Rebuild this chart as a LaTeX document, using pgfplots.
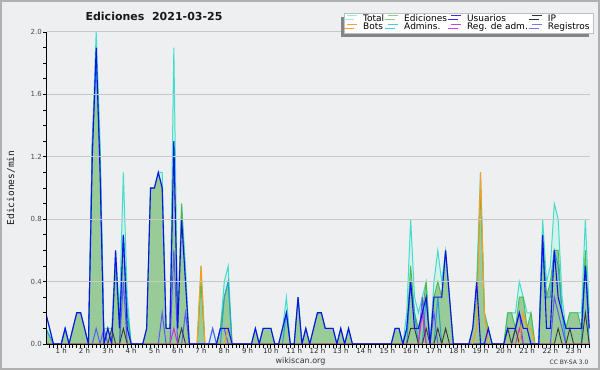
\documentclass[border=0pt]{standalone}
\usepackage{pgfplots}
\pgfplotsset{compat=1.18}
\usepackage{pgfplotstable}
\usepackage{fontspec}
\setmainfont{DejaVu Sans}
\newfontfamily\monofont{DejaVu Sans Mono}
\usetikzlibrary{shadows}
\definecolor{bg}{HTML}{EEEFF1}
\definecolor{bordc}{HTML}{B0B0B0}
\definecolor{gridc}{HTML}{C8C8CA}
\definecolor{totfill}{HTML}{D2F2EA}
\definecolor{totline}{HTML}{40DCCC}
\definecolor{edfill}{HTML}{98CB98}
\definecolor{edline}{HTML}{4CB84C}
\definecolor{usr}{HTML}{1010EE}
\definecolor{adm}{HTML}{22A0D8}
\definecolor{ipc}{HTML}{383838}
\definecolor{bot}{HTML}{FF9A1A}
\definecolor{radm}{HTML}{CC33CC}
\definecolor{reg}{HTML}{5A5AF0}
\definecolor{lgTot}{HTML}{A8E6DC}
\definecolor{lgEd}{HTML}{88D088}
\definecolor{lgUsr}{HTML}{3333DD}
\definecolor{lgIP}{HTML}{333333}
\definecolor{lgBot}{HTML}{FF9933}
\definecolor{lgAdm}{HTML}{44CCDD}
\definecolor{lgRadm}{HTML}{CC44DD}
\definecolor{lgReg}{HTML}{7777EE}

% i = 10-minute slot; T=Total E=Ediciones U=Usuarios A=Admins IP B=Bots M=Reg. de adm. R=Registros
\pgfplotstableread{
i T E U A IP B M R
2 0.2 0.1 0.2 0.1 0 0 0 0
3 0.1 0.05 0.1 0.05 0 0 0 0
4 0 0 0 0 0 0 0 0
5 0 0 0 0 0 0 0 0
6 0 0 0 0 0 0 0 0
7 0.1 0.1 0.1 0.1 0 0 0 0
8 0 0 0 0 0 0 0 0
9 0.1 0.1 0.1 0 0 0 0 0
10 0.2 0.2 0.2 0 0 0 0 0
11 0.2 0.2 0.2 0 0 0 0 0
12 0.1 0.1 0.1 0 0 0 0 0
13 0 0 0 0 0 0 0 0
14 1.3 1.3 1.2 1.3 0 0 0 0
15 2.0 1.8 1.9 1.8 0 0 0 0.1
16 1.3 1.2 1.1 1.2 0 0 0 0
17 0.1 0 0 0 0 0 0 0.1
18 0.1 0.1 0.1 0 0 0 0 0
19 0.1 0 0 0 0.1 0 0 0
20 0.6 0.5 0.6 0 0 0 0 0
21 0.2 0.1 0.1 0 0 0 0 0
22 1.1 0.7 0.7 0.7 0.1 0 0 0.4
23 0.3 0.2 0.1 0.2 0 0 0 0
24 0 0 0 0 0 0 0 0
25 0 0 0 0 0 0 0 0
26 0 0 0 0 0 0 0 0
27 0 0 0 0 0 0 0 0
28 0.1 0.1 0.1 0 0 0 0 0
29 1.0 1.0 1.0 0 0 0 0 0
30 1.0 1.0 1.0 0 0 0 0 0
31 1.1 1.1 1.1 0 0 0 0 0
32 1.1 1.0 1.0 0 0 0 0 0.2
33 0.1 0.1 0.1 0 0 0 0 0
34 0.1 0.1 0.1 0 0 0 0 0
35 1.9 1.3 1.3 0 0 0 0.1 0.6
36 0.1 0.1 0.1 0 0 0 0 0
37 0.9 0.9 0.8 0 0.1 0 0 0
38 0.5 0.4 0.4 0 0 0 0 0.2
39 0 0 0 0 0 0 0 0
40 0 0 0 0 0 0 0 0
41 0 0 0 0 0 0 0 0
42 0.5 0.4 0 0 0 0.5 0 0
43 0 0 0 0 0 0 0 0
44 0 0 0 0 0 0 0 0
45 0.1 0 0 0 0 0 0 0.1
46 0 0 0 0 0 0 0 0
47 0.1 0.1 0.1 0 0 0 0 0.1
48 0.4 0.3 0.1 0.3 0 0 0 0.1
49 0.5 0.4 0.1 0.4 0 0.1 0 0
50 0 0 0 0 0 0 0 0
51 0 0 0 0 0 0 0 0
52 0 0 0 0 0 0 0 0
53 0 0 0 0 0 0 0 0
54 0 0 0 0 0 0 0 0
55 0 0 0 0 0 0 0 0
56 0.1 0.1 0.1 0 0 0 0 0
57 0 0 0 0 0 0 0 0
58 0.1 0.1 0.1 0 0 0 0 0
59 0.1 0.1 0.1 0 0 0 0 0
60 0.1 0.1 0.1 0 0 0 0 0
61 0 0 0 0 0 0 0 0
62 0 0 0 0 0 0 0 0
63 0.1 0.1 0.1 0 0 0 0 0
64 0.3 0.2 0.2 0.2 0 0 0 0
65 0 0 0 0 0 0 0 0
66 0 0 0 0 0 0 0 0
67 0.3 0.3 0.3 0 0 0 0 0
68 0 0 0 0 0 0 0 0
69 0.1 0.1 0.1 0 0 0 0 0
70 0 0 0 0 0 0 0 0
71 0.1 0.1 0.1 0 0 0 0 0
72 0.2 0.2 0.2 0 0 0 0 0
73 0.2 0.2 0.2 0 0 0 0 0
74 0.1 0.1 0.1 0 0 0 0 0
75 0.1 0.1 0.1 0 0 0 0 0
76 0.1 0.1 0.1 0 0 0 0 0
77 0 0 0 0 0 0 0 0
78 0.1 0.1 0.1 0 0 0 0 0
79 0 0 0 0 0 0 0 0
80 0.1 0.1 0.1 0 0 0 0 0
81 0 0 0 0 0 0 0 0
82 0 0 0 0 0 0 0 0
83 0 0 0 0 0 0 0 0
84 0 0 0 0 0 0 0 0
85 0 0 0 0 0 0 0 0
86 0 0 0 0 0 0 0 0
87 0 0 0 0 0 0 0 0
88 0 0 0 0 0 0 0 0
89 0 0 0 0 0 0 0 0
90 0 0 0 0 0 0 0 0
91 0 0 0 0 0 0 0 0
92 0.1 0.1 0.1 0 0 0 0 0
93 0.1 0.1 0.1 0 0 0 0 0
94 0 0 0 0 0 0 0 0
95 0.2 0.1 0.1 0 0 0 0 0
96 0.8 0.5 0.4 0.4 0.1 0 0 0
97 0.3 0.2 0.1 0.2 0.1 0 0 0
98 0.2 0.1 0.1 0 0 0 0 0
99 0.3 0.2 0.2 0 0 0 0.2 0.3
100 0.4 0.4 0.3 0.3 0.1 0 0 0
101 0 0 0 0 0 0 0 0
102 0.4 0.3 0.3 0 0 0 0 0.2
103 0.6 0.4 0.3 0.3 0.1 0 0 0
104 0.4 0.3 0.3 0 0 0 0 0
105 0.6 0.6 0.6 0 0.1 0 0 0
106 0.3 0.3 0.3 0 0 0 0 0
107 0 0 0 0 0 0 0 0
108 0 0 0 0 0 0 0 0
109 0 0 0 0 0 0 0 0
110 0 0 0 0 0 0 0 0
111 0 0 0 0 0 0 0 0
112 0.1 0.1 0.1 0 0 0 0 0
113 0.4 0.3 0.4 0 0 0.1 0 0
114 1.1 1.0 0 0 0 1.1 0 0
115 0.2 0.2 0 0 0 0.2 0 0
116 0.1 0.1 0.1 0 0 0 0 0
117 0 0 0 0 0 0 0 0
118 0 0 0 0 0 0 0 0
119 0 0 0 0 0 0 0 0
120 0 0 0 0 0 0 0 0
121 0.2 0.2 0.1 0 0.1 0 0 0
122 0.2 0.2 0.1 0 0 0 0 0
123 0.2 0.1 0.1 0 0.1 0 0 0.1
124 0.4 0.3 0.2 0 0 0 0.1 0.2
125 0.3 0.3 0.1 0 0 0.2 0 0
126 0.2 0.1 0.1 0 0 0.1 0 0
127 0.2 0.2 0 0 0 0.1 0 0
128 0 0 0 0 0 0 0 0
129 0 0 0 0 0 0 0 0
130 0.8 0.7 0.7 0.6 0 0 0 0
131 0.4 0.3 0.1 0.3 0 0 0 0
132 0.5 0.4 0.1 0.3 0 0 0 0
133 0.9 0.6 0.6 0.6 0 0 0 0.3
134 0.8 0.6 0.3 0.5 0.1 0 0 0.2
135 0.3 0.2 0.2 0.2 0 0 0 0.1
136 0.1 0.1 0.1 0 0 0 0 0
137 0.2 0.2 0.1 0 0.1 0 0 0
138 0.2 0.2 0.1 0 0 0 0 0
139 0.2 0.2 0.1 0 0 0 0 0
140 0.2 0.1 0.1 0 0 0 0 0
141 0.8 0.6 0.5 0.5 0.2 0 0 0
142 0.2 0.1 0.1 0 0 0 0 0
}\data

\begin{document}
\begin{tikzpicture}
\useasboundingbox (0,0) rectangle (600bp,370bp);
\fill[bg] (0,0) rectangle (600bp,370bp);
\begin{axis}[
  at={(46.5bp,26bp)}, anchor=south west,
  scale only axis, width=543.5bp, height=312bp,
  xmin=2.2, xmax=142.2, ymin=0, ymax=2,
  axis x line=bottom, axis y line=left,
  axis line style={-, black, line width=1bp},
  axis on top,
  tick align=outside,
  major tick length=3.5bp, minor tick length=3.5bp,
  every tick/.style={black, line width=0.8bp},
  xtick={6,12,...,138},
  xticklabels={1 h,2 h,3 h,4 h,5 h,6 h,7 h,8 h,9 h,10 h,11 h,12 h,13 h,14 h,15 h,16 h,17 h,18 h,19 h,20 h,21 h,22 h,23 h},
  minor xtick={3,4,...,142},
  ytick={0,0.4,0.8,1.2,1.6,2.0},
  yticklabels={0.0,0.4,0.8,1.2,1.6,2.0},
  minor ytick={0.1,0.2,0.3,0.5,0.6,0.7,0.9,1.0,1.1,1.3,1.4,1.5,1.7,1.8,1.9},
  xticklabel style={font=\fontsize{7bp}{8bp}\selectfont, text=black!85, inner sep=0.5bp},
  yticklabel style={font=\fontsize{7bp}{8bp}\selectfont, text=black!70, inner sep=1bp},
  ymajorgrids, major grid style={gridc, line width=1bp},
  legend columns=4,
  legend cell align=left,
  legend image code/.code={\draw[#1] (0bp,3bp) -- (10bp,3bp);},
  legend style={at={(1.0055,1.062)}, anchor=north east, draw=black!25, fill=white,
    font=\fontsize{9bp}{10bp}\selectfont, inner xsep=2.5bp, inner ysep=1bp,
    row sep=-1.5bp,
    drop shadow={shadow xshift=-3.5bp, shadow yshift=-4bp, fill=black!48, opacity=1},
    nodes={inner sep=0.8bp},
    /tikz/every odd column/.append style={column sep=4.5bp},
    /tikz/every even column/.append style={column sep=3bp}},
]
% areas
\addplot[fill=totfill, draw=none, forget plot] table[x=i, y=T] {\data} \closedcycle;
\addplot[fill=edfill, draw=none, forget plot] table[x=i, y=E] {\data} \closedcycle;
% lines
\addplot[totline, line width=1bp, forget plot] table[x=i, y=T] {\data};
\addplot[edline, line width=0.9bp, forget plot] table[x=i, y=E] {\data};
\addplot[adm, line width=1bp, forget plot] table[x=i, y=A] {\data};
\addplot[reg, line width=1bp, forget plot] table[x=i, y=R] {\data};
\addplot[radm, line width=1bp, forget plot] table[x=i, y=M] {\data};
\addplot[ipc, line width=0.9bp, forget plot] table[x=i, y=IP] {\data};
\addplot[bot, line width=1bp, forget plot] table[x=i, y=B] {\data};
\addplot[usr, line width=1.1bp, forget plot] table[x=i, y=U] {\data};
% legend
\addlegendimage{lgTot, line width=1bp}\addlegendentry{Total}
\addlegendimage{lgEd, line width=1bp}\addlegendentry{Ediciones}
\addlegendimage{lgUsr, line width=1bp}\addlegendentry{Usuarios}
\addlegendimage{lgIP, line width=1bp}\addlegendentry{IP}
\addlegendimage{lgBot, line width=1bp}\addlegendentry{Bots}
\addlegendimage{lgAdm, line width=1bp}\addlegendentry{Admins.}
\addlegendimage{lgRadm, line width=1bp}\addlegendentry{Reg. de adm.}
\addlegendimage{lgReg, line width=1bp}\addlegendentry{Registros}
\end{axis}
\node[font=\bfseries\fontsize{11bp}{12bp}\selectfont, text=black!90] at (154bp,353.5bp) {Ediciones\ \ 2021-03-25};
\node[font=\monofont\fontsize{9.5bp}{10bp}\selectfont, rotate=90, text=black!90] at (11bp,182bp) {Ediciones/min};
\node[font=\fontsize{8bp}{9bp}\selectfont, text=black!80] at (300.5bp,8.5bp) {wikiscan.org};
\node[font=\fontsize{6bp}{7bp}\selectfont, text=black!80] at (569bp,7.5bp) {CC BY-SA 3.0};
\draw[bordc, line width=2bp] (1bp,1bp) rectangle (599bp,369bp);
\end{tikzpicture}
\end{document}
